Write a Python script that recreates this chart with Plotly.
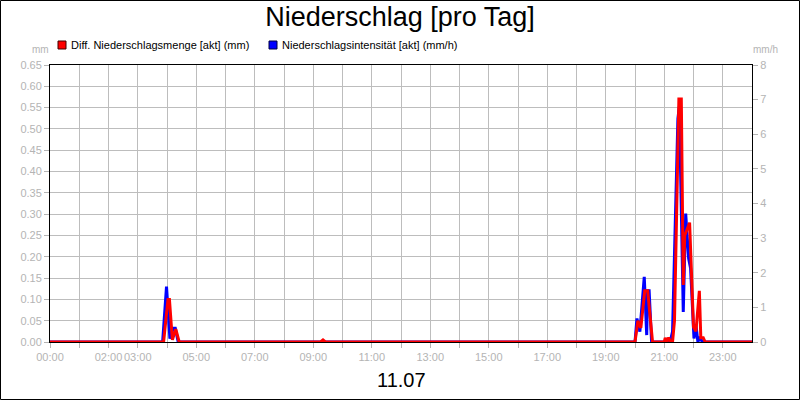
import plotly.graph_objects as go

# --- data ---
# Diff. Niederschlagsmenge [akt] (mm), left axis
menge_time = [
    "00:00", "03:53", "04:02", "04:05", "04:11", "04:18", "04:25",
    "09:15", "09:20", "09:25",
    "20:00", "20:06", "20:12", "20:20", "20:26", "20:36",
    "21:00", "21:02", "21:05", "21:09", "21:13", "21:17", "21:21",
    "21:30", "21:35", "21:39", "21:42", "21:52", "22:00", "22:05",
    "22:12", "22:15", "22:20", "22:24", "24:00",
]
menge_mm = [
    0, 0, 0.10, 0.10, 0.005, 0.03, 0,
    0, 0.005, 0,
    0, 0.05, 0.033, 0.12, 0.12, 0,
    0, 0.01, 0, 0.01, 0, 0, 0.05,
    0.57, 0.57, 0.134, 0.25, 0.28, 0.035, 0.025,
    0.12, 0.01, 0.01, 0, 0,
]

# Niederschlagsintensität [akt] (mm/h), right axis
intens_time = [
    "00:00", "03:51", "03:59", "04:06", "04:13", "04:17", "04:23",
    "20:00", "20:04", "20:10", "20:19", "20:24", "20:26", "20:29", "20:34",
    "21:12", "21:17", "21:28", "21:31", "21:39", "21:44", "21:50",
    "21:54", "22:01", "22:05", "22:09", "22:13", "22:18", "24:00",
]
intens_mmh = [
    0, 0, 1.6, 0.1, 0.4, 0.4, 0,
    0, 0.68, 0.3, 1.88, 0.2, 1.48, 1.48, 0,
    0, 0.3, 6.45, 6.8, 0.87, 3.71, 2.41,
    2.13, 0.1, 0.5, 0, 0.15, 0, 0,
]

hour_labels = {0: "00:00", 2: "02:00", 3: "03:00", 5: "05:00", 7: "07:00",
               9: "09:00", 11: "11:00", 13: "13:00", 15: "15:00",
               17: "17:00", 19: "19:00", 21: "21:00", 23: "23:00"}


def to_hours(s):
    h, m = s.split(":")
    return int(h) + int(m) / 60


GRAY = "#b4b4b4"
FONT = "Liberation Sans"

# plot area in pixels: x 50..752, y 65..342
L, R, T, B = 50, 752, 65, 342
PW, PH = R - L, B - T


def px(x):
    return (x - L) / PW


def py(y):
    return (B - y) / PH


fig = go.Figure()

# blue on the primary (right) axis so red is drawn on top of it
fig.add_trace(
    go.Scatter(
        x=[to_hours(t) for t in intens_time],
        y=intens_mmh,
        mode="lines",
        line=dict(color="#0000ff", width=3),
        name="Niederschlagsintensität [akt] (mm/h)",
        yaxis="y",
        showlegend=False,
    )
)
fig.add_trace(
    go.Scatter(
        x=[to_hours(t) for t in menge_time],
        y=menge_mm,
        mode="lines",
        line=dict(color="#ff0000", width=3),
        name="Diff. Niederschlagsmenge [akt] (mm)",
        yaxis="y2",
        showlegend=False,
    )
)

fig.update_layout(
    width=800,
    height=400,
    margin=dict(l=L, r=800 - R, t=T, b=400 - B),
    paper_bgcolor="white",
    plot_bgcolor="white",
    font=dict(family=FONT, size=11, color=GRAY),
    title=dict(
        text="Niederschlag [pro Tag]",
        x=0.5,
        xanchor="center",
        y=1 - 17 / 400,
        yanchor="middle",
        font=dict(family=FONT, size=27, color="black"),
    ),
    xaxis=dict(
        range=[0, 24],
        tickmode="array",
        tickvals=list(range(24)),
        ticktext=[hour_labels.get(h, "") for h in range(24)],
        tickangle=0,
        automargin=False,
        ticks="outside",
        ticklen=5,
        tickcolor=GRAY,
        tickfont=dict(size=11, color=GRAY),
        showgrid=True,
        gridcolor="#bdbdbd",
        gridwidth=1,
        showline=True,
        mirror=True,
        linecolor="black",
        linewidth=1,
        zeroline=False,
    ),
    yaxis=dict(
        side="right",
        range=[0, 8],
        dtick=1,
        automargin=False,
        ticks="outside",
        ticklen=5,
        tickcolor=GRAY,
        tickfont=dict(size=11, color=GRAY),
        showgrid=False,
        zeroline=False,
        showline=True,
        linecolor="black",
        linewidth=1,
    ),
    yaxis2=dict(
        side="left",
        overlaying="y",
        range=[0, 0.65],
        dtick=0.05,
        tickformat=".2f",
        automargin=False,
        ticks="outside",
        ticklen=5,
        tickcolor=GRAY,
        tickfont=dict(size=11, color=GRAY),
        showgrid=True,
        gridcolor="#bdbdbd",
        gridwidth=1,
        zeroline=False,
        showline=True,
        linecolor="black",
        linewidth=1,
    ),
)

# legend keys drawn by hand (small squares + text)
for x0, color, edge, label in [
    (58, "#ff0000", "#400000", "Diff. Niederschlagsmenge [akt] (mm)"),
    (269, "#0000ff", "#000040", "Niederschlagsintensität [akt] (mm/h)"),
]:
    fig.add_shape(
        type="rect",
        xref="paper",
        yref="paper",
        x0=px(x0),
        x1=px(x0 + 8),
        y0=py(49),
        y1=py(41),
        fillcolor=color,
        line=dict(color=edge, width=1),
    )
    fig.add_annotation(
        x=px(x0 + 11),
        y=py(45),
        xref="paper",
        yref="paper",
        text=label,
        showarrow=False,
        xanchor="left",
        yanchor="middle",
        font=dict(family=FONT, size=11, color="black"),
    )

# axis unit labels
fig.add_annotation(x=px(40), y=py(49), xref="paper", yref="paper", text="mm",
                   showarrow=False, xanchor="center", yanchor="middle",
                   font=dict(family=FONT, size=10, color=GRAY))
fig.add_annotation(x=px(765), y=py(49), xref="paper", yref="paper", text="mm/h",
                   showarrow=False, xanchor="center", yanchor="middle",
                   font=dict(family=FONT, size=10, color=GRAY))

# date below the axis
fig.add_annotation(x=0.5, y=py(380), xref="paper", yref="paper", text="11.07",
                   showarrow=False, xanchor="center", yanchor="middle",
                   font=dict(family=FONT, size=20, color="black"))

# outer border of the image
fig.add_shape(
    type="rect",
    xref="paper",
    yref="paper",
    x0=px(0.5),
    x1=px(799.5),
    y0=py(399.5),
    y1=py(0.5),
    line=dict(color="black", width=1),
    fillcolor="rgba(0,0,0,0)",
    layer="above",
)

fig.write_html(
    "out.html",
    config={"displayModeBar": False},
    post_script="document.body.style.margin = '0';",
)
